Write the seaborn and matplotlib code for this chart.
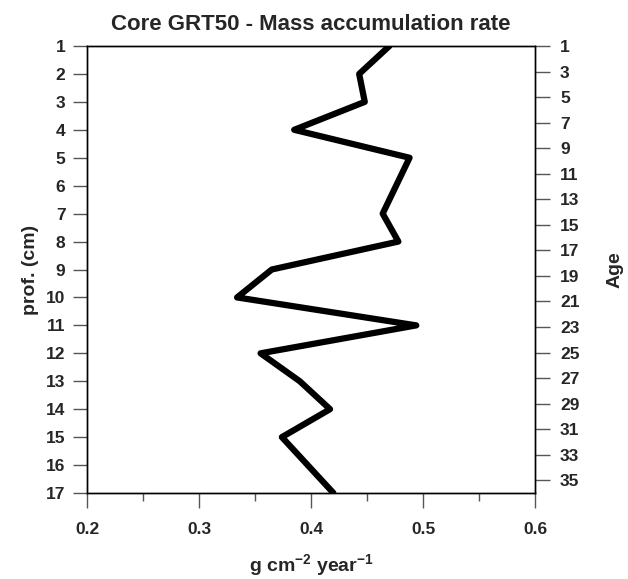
import matplotlib
matplotlib.use("Agg")
import matplotlib.pyplot as plt
import seaborn as sns
from matplotlib.ticker import MultipleLocator

sns.set_style("ticks")
plt.rcParams["font.family"] = ["Liberation Sans", "DejaVu Sans"]
plt.rcParams["font.weight"] = "bold"
plt.rcParams["mathtext.fontset"] = "custom"
plt.rcParams["mathtext.rm"] = "Liberation Sans:bold"
plt.rcParams["mathtext.default"] = "rm"

depth = [1, 2, 3, 4, 5, 6, 7, 8, 9, 10, 11, 12, 13, 14, 15, 16, 17]
rate = [0.470, 0.443, 0.448, 0.385, 0.488, 0.476, 0.464, 0.478, 0.365,
        0.334, 0.494, 0.355, 0.390, 0.417, 0.374, 0.397, 0.420]
age_ticks = [1, 3, 5, 7, 9, 11, 13, 15, 17, 19, 21, 23, 25, 27, 29, 31, 33, 35]

fig = plt.figure(figsize=(6.28, 5.79), dpi=100)
ax = fig.add_axes([87 / 628, 1 - 493 / 579, 448 / 628, 447 / 579])

sns.lineplot(x=rate, y=depth, sort=False, orient="y", color="black",
             linewidth=4.5, ax=ax)
ax.lines[0].set_solid_joinstyle("round")
ax.lines[0].set_solid_capstyle("round")

tick_col = "#555555"
ax.set_xlim(0.2, 0.6)
ax.set_ylim(17, 1)
ax.set_yticks(depth)
ax.xaxis.set_major_locator(MultipleLocator(0.1))
ax.xaxis.set_minor_locator(MultipleLocator(0.05))
ax.set_xticklabels([f"{v:.1f}" for v in ax.get_xticks()])
ax.tick_params(axis="x", which="major", length=11, width=1, labelsize=12.5,
               pad=10, color=tick_col)
ax.tick_params(axis="x", which="minor", length=5.5, width=1, color=tick_col)
ax.tick_params(axis="y", length=10, width=1, labelsize=12.5, pad=5.5,
               color=tick_col)
for s in ax.spines.values():
    s.set_linewidth(1)
    s.set_color("black")

ax.set_title("Core GRT50 - Mass accumulation rate", fontsize=16,
             fontweight="bold", pad=11.5)
ax.set_ylabel("prof. (cm)", fontsize=14, fontweight="bold", labelpad=5)
ax.set_xlabel(r"g cm$^{-2}$ year$^{-1}$", fontsize=14, fontweight="bold",
              labelpad=11)

ax2 = ax.twinx()
ax2.set_ylim(36, 1)
ax2.set_yticks(age_ticks)
ax2.tick_params(axis="y", length=11, width=1, labelsize=12.5, pad=7,
                color=tick_col)
ax2.set_ylabel("Age", fontsize=14, fontweight="bold", labelpad=19.5)
for s in ax2.spines.values():
    s.set_linewidth(1)
    s.set_color("black")

fig.savefig("out.png", dpi=100)
plt.close(fig)
